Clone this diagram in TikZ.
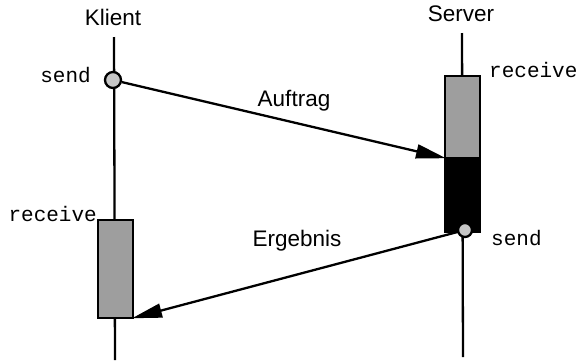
\documentclass[tikz,border=0pt]{standalone}
\usepackage{fontspec}
\setmainfont{Liberation Sans}
\setmonofont{Liberation Mono}
\usetikzlibrary{arrows.meta}
\begin{document}
\begin{tikzpicture}[x=1pt,y=-1pt,
  lifeline/.style={line width=2.3pt},
  actbox/.style={draw, line width=2.3pt, minimum width=35pt, inner sep=0pt, outer sep=0pt},
  eventdot/.style={circle, draw, line width=2.3pt, fill=black!22, inner sep=0pt},
  msg/.style={line width=2.3pt, -{Triangle[length=30pt,width=14pt]}, shorten >=-1pt},
  title/.style={font=\fontsize{22.5}{26}\selectfont},
  op/.style={font=\ttfamily\fontsize{21}{24}\selectfont, inner sep=0pt}]
\useasboundingbox (0,0) rectangle (586,362);

% lifelines
\coordinate (kt) at (114,37);
\coordinate (kb) at (115,360);
\coordinate (st) at (462,33);
\coordinate (sb) at (463,357);
\draw[lifeline] (kt) -- (kb);
\draw[lifeline] (st) -- (sb);

% headings
\node[title] (klient) at (113,17) {Klient};
\node[title] (server) at (461,14) {Server};

% activation boxes
\node[actbox, fill=black!38, minimum height=82pt] (sgray) at (462.5,117) {};
\node[actbox, fill=black, minimum height=74pt] (sblack) at (462.5,195) {};
\node[actbox, fill=black!38, minimum height=98pt] (kbox) at (115.5,269) {};

% send events
\node[eventdot, minimum size=16pt] (ksend) at (113,80) {};
\node[eventdot, minimum size=14pt] (ssend) at (465,230) {};

% messages
\draw[msg] (ksend) -- (sgray.south west);
\draw[msg] (ssend) -- (kbox.south east);

% labels
\node[op, anchor=east] (ksendlbl) at (91,75) {send};
\node[op, anchor=west] (srecvlbl) at (489,70) {receive};
\node[op, anchor=west] (ssendlbl) at (491,238) {send};
\node[op, anchor=east] (krecvlbl) at (97,214) {receive};
\node[title] (auftrag) at (294,101) {Auftrag};
\node[title] (ergebnis) at (297,241) {Ergebnis};
\end{tikzpicture}
\end{document}
